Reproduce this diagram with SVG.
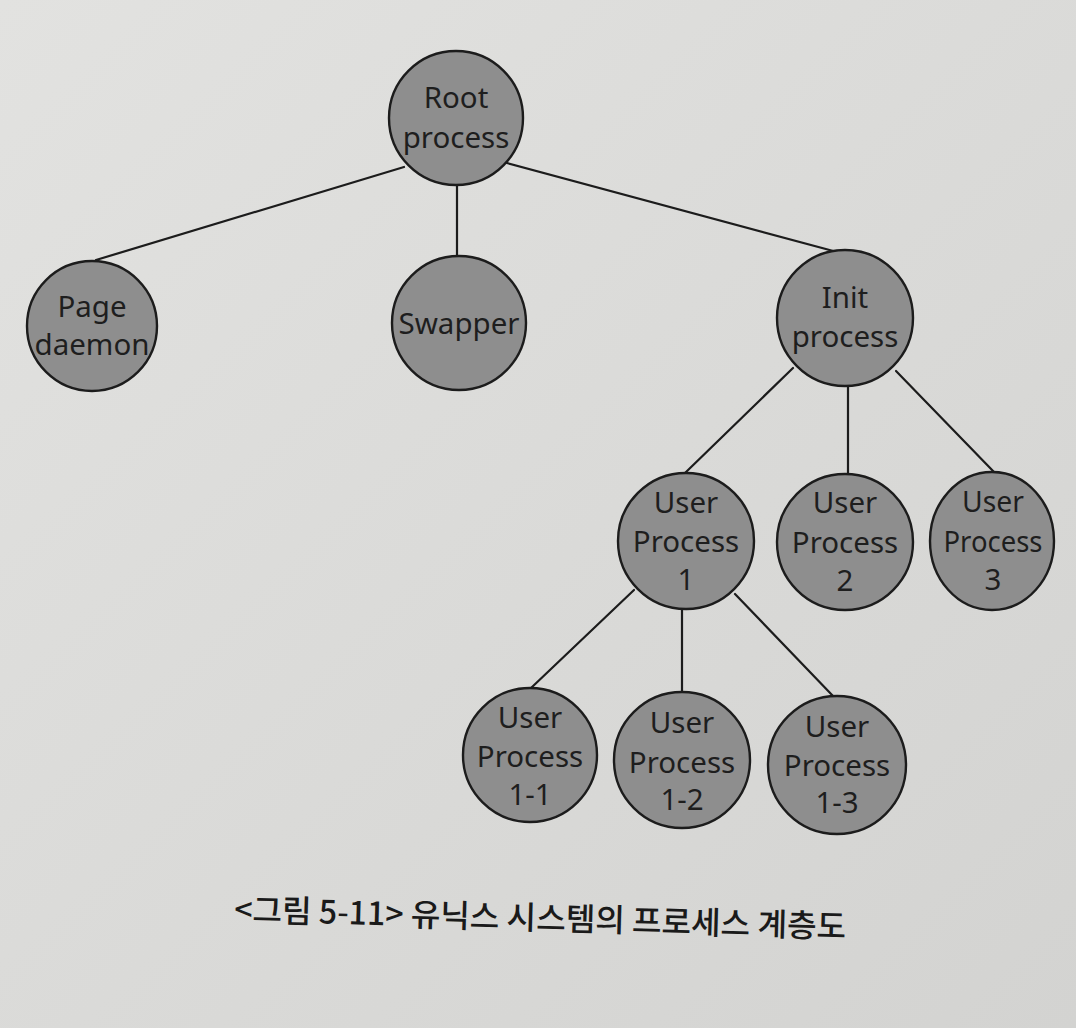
<svg xmlns="http://www.w3.org/2000/svg" width="1076" height="1028" viewBox="0 0 1076 1028">
  <defs>
    <linearGradient id="paper" x1="0" y1="0" x2="1" y2="1">
      <stop offset="0" stop-color="#e2e2e0"/>
      <stop offset="1" stop-color="#d3d3d1"/>
    </linearGradient>
    <style>
      .node { fill: #8e8e8e; stroke: #1c1c1c; stroke-width: 2.4; }
      .lbl { font-family: "Noto Sans", "Open Sans", sans-serif; font-size: 29.5px; fill: #1e1e1e; text-anchor: middle; }
      .edge { stroke: #1c1c1c; stroke-width: 2.2; fill: none; stroke-linecap: round; }
      .cap { font-family: "Noto Sans CJK KR", "Noto Sans", sans-serif; font-size: 32px; font-weight: 500; fill: #1a1a1a; }
    </style>
  </defs>
  <rect width="1076" height="1028" fill="url(#paper)"/>

  <g id="connectors">
    <line class="edge" x1="404" y1="167" x2="96" y2="260"/>
    <line class="edge" x1="457" y1="185" x2="457" y2="256"/>
    <line class="edge" x1="507" y1="163" x2="837" y2="252"/>
    <line class="edge" x1="793" y1="368" x2="685" y2="473"/>
    <line class="edge" x1="848" y1="387" x2="848" y2="473"/>
    <line class="edge" x1="896" y1="371" x2="994" y2="472"/>
    <line class="edge" x1="634" y1="590" x2="531" y2="688"/>
    <line class="edge" x1="682" y1="609" x2="682" y2="692"/>
    <line class="edge" x1="735" y1="594" x2="833" y2="696"/>
  </g>

  <g id="root">
    <circle class="node" cx="456" cy="118" r="67"/>
    <text class="lbl" x="456" y="108">Root</text>
    <text class="lbl" x="456" y="148">process</text>
  </g>
  <g id="page-daemon">
    <circle class="node" cx="92" cy="326" r="65"/>
    <text class="lbl" x="92" y="317">Page</text>
    <text class="lbl" x="92" y="355">daemon</text>
  </g>
  <g id="swapper">
    <circle class="node" cx="459" cy="323" r="67"/>
    <text class="lbl" x="459" y="334">Swapper</text>
  </g>
  <g id="init">
    <circle class="node" cx="845" cy="318" r="68"/>
    <text class="lbl" x="845" y="308">Init</text>
    <text class="lbl" x="845" y="347">process</text>
  </g>
  <g id="up1">
    <circle class="node" cx="686" cy="541" r="68"/>
    <text class="lbl" x="686" y="513">User</text>
    <text class="lbl" x="686" y="552">Process</text>
    <text class="lbl" x="686" y="590">1</text>
  </g>
  <g id="up2">
    <circle class="node" cx="845" cy="542" r="68"/>
    <text class="lbl" x="845" y="513">User</text>
    <text class="lbl" x="845" y="553">Process</text>
    <text class="lbl" x="845" y="591">2</text>
  </g>
  <g id="up3">
    <ellipse class="node" cx="992" cy="541" rx="62" ry="69"/>
    <text class="lbl" x="993" y="512" textLength="62" lengthAdjust="spacingAndGlyphs">User</text>
    <text class="lbl" x="993" y="552" textLength="99" lengthAdjust="spacingAndGlyphs">Process</text>
    <text class="lbl" x="993" y="590">3</text>
  </g>
  <g id="up1-1">
    <circle class="node" cx="530" cy="755" r="67"/>
    <text class="lbl" x="530" y="728">User</text>
    <text class="lbl" x="530" y="767">Process</text>
    <text class="lbl" x="530" y="805">1-1</text>
  </g>
  <g id="up1-2">
    <circle class="node" cx="682" cy="760" r="68"/>
    <text class="lbl" x="682" y="733">User</text>
    <text class="lbl" x="682" y="773">Process</text>
    <text class="lbl" x="682" y="810">1-2</text>
  </g>
  <g id="up1-3">
    <circle class="node" cx="837" cy="765" r="69"/>
    <text class="lbl" x="837" y="737">User</text>
    <text class="lbl" x="837" y="776">Process</text>
    <text class="lbl" x="837" y="813">1-3</text>
  </g>

  <g id="caption">
    <text class="cap" x="234" y="921" transform="rotate(1.6 234 921)" textLength="612" lengthAdjust="spacingAndGlyphs">&lt;그림 5-11&gt; 유닉스 시스템의 프로세스 계층도</text>
  </g>
</svg>
